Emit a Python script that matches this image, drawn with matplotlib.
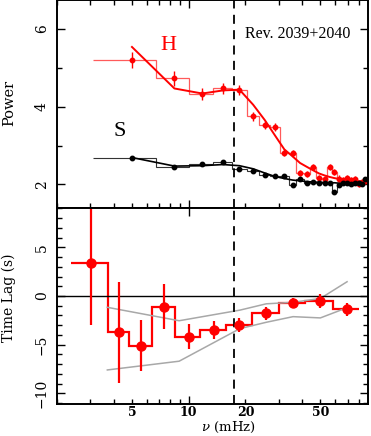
import numpy as np
import matplotlib
matplotlib.use("Agg")
import matplotlib.pyplot as plt
from matplotlib.ticker import LogLocator, FixedLocator, NullFormatter, MultipleLocator

plt.rcParams["mathtext.fontset"] = "dejavuserif"

# ---------------- data ----------------
# Power spectra (top panel)
pds_edges = [3.1, 6.7, 10.1, 13.5, 16.9, 20.3, 23.7, 27.1, 30.5, 33.9, 37.3, 40.7, 44.1,
             47.5, 50.9, 54.3, 57.7, 61.1, 64.5, 67.9, 71.3, 74.7, 78.1, 81.5, 84.9, 88.3]
pds_freq = [5.0, 8.4, 11.8, 15.2, 18.6, 22.0, 25.4, 28.8, 32.2, 35.6, 39.0, 42.4, 45.8,
            49.2, 52.6, 56.0, 59.4, 62.8, 66.2, 69.6, 73.0, 76.4, 79.8, 83.2, 86.6]
hard_power = [5.20, 4.73, 4.32, 4.47, 4.43, 3.75, 3.53, 3.47, 2.82, 2.80, 2.30, 2.26, 2.44,
              2.17, 2.14, 2.45, 2.32, 2.15, 2.12, 2.17, 2.10, 2.13, 2.02, 2.05, 2.08]
hard_err = [0.20, 0.19, 0.15, 0.13, 0.13, 0.11, 0.10, 0.10, 0.09, 0.09, 0.08, 0.08, 0.08,
            0.08, 0.08, 0.08, 0.08, 0.08, 0.08, 0.08, 0.08, 0.08, 0.08, 0.08, 0.08]
hard_model = [5.54, 4.47, 4.34, 4.42, 4.44, 4.05, 3.65, 3.25, 2.90, 2.72, 2.55, 2.45, 2.36,
              2.28, 2.23, 2.19, 2.16, 2.14, 2.12, 2.11, 2.10, 2.09, 2.08, 2.07, 2.06]
soft_power = [2.67, 2.44, 2.52, 2.58, 2.39, 2.34, 2.24, 2.21, 2.22, 1.97, 2.13, 2.03, 2.06,
              2.03, 2.04, 2.03, 1.80, 1.98, 2.04, 2.03, 2.02, 2.04, 2.03, 2.02, 2.14]
soft_err = [0.05] * 25
soft_model = [2.69, 2.47, 2.48, 2.51, 2.48, 2.40, 2.29, 2.20, 2.15, 2.11, 2.09, 2.07, 2.06,
              2.05, 2.05, 2.04, 2.04, 2.03, 2.03, 2.03, 2.03, 2.03, 2.03, 2.03, 2.03]

# Time lags (bottom panel)
lag_edges = [2.37, 3.72, 4.8, 6.38, 8.47, 11.5, 15.8, 21.6, 30.0, 41.6, 58.2, 80.5]
lag_freq = [3.03, 4.25, 5.58, 7.43, 10.0, 13.7, 18.6, 25.8, 36.0, 50.0, 69.3]
lag = [3.36, -3.73, -5.10, -1.10, -4.18, -3.50, -2.98, -1.78, -0.69, -0.51, -1.37]
lag_err = [6.3, 5.2, 2.6, 2.3, 1.3, 0.9, 0.75, 0.7, 0.45, 0.75, 0.65]

band_freq = [3.7, 8.9, 18.7, 25.8, 35.8, 50.0, 69.3]
band_upper = [-1.16, -2.54, -1.45, -0.80, -0.65, -0.25, 1.47]
band_lower = [-7.60, -6.70, -3.35, -2.70, -2.12, -2.25, -1.20]

break_freq = 17.5
xticks = [5, 10, 20, 50]
xticklabels = ["5", "10", "20", "50"]

# ---------------- figure ----------------
W, H = 371, 436
fig = plt.figure(figsize=(W / 100, H / 100), dpi=100)
RED = "#ff0000"
SERIF = "DejaVu Serif"

ax1 = fig.add_axes([57 / W, 1 - 208 / H, 311 / W, 208 / H])
ax2 = fig.add_axes([57 / W, 1 - 404 / H, 311 / W, 196 / H], sharex=ax1)

for ax in (ax1, ax2):
    ax.set_xscale("log")
    for s in ax.spines.values():
        s.set_linewidth(1.4)
    ax.tick_params(which="both", direction="in", right=True, width=1.0)
    ax.tick_params(which="major", length=6)
    ax.tick_params(which="minor", length=3.5)

ax1.set_xlim(2.0, 89.5)
ax1.set_ylim(1.39, 6.75)
ax2.set_ylim(-11.1, 9.05)

# top panel
ax1.stairs(hard_power, pds_edges, baseline=None, color="#ff5a5a", lw=0.9)
ax1.stairs(soft_power, pds_edges, baseline=None, color="#333333", lw=0.8)
ax1.plot(pds_freq, hard_model, color=RED, lw=1.4)
ax1.plot(pds_freq, soft_model, color="black", lw=1.2)
ax1.errorbar(pds_freq, hard_power, yerr=hard_err, fmt="o", ms=3.2, color=RED,
             elinewidth=1.0, capsize=0)
ax1.errorbar(pds_freq, soft_power, yerr=soft_err, fmt="o", ms=3.2, color="black",
             elinewidth=1.0, capsize=0)
ax1.axvline(break_freq, color="black", lw=1.3, ls=(0, (5, 3.5)))

ax1.yaxis.set_major_locator(MultipleLocator(2))
ax1.yaxis.set_minor_locator(MultipleLocator(1))
ax1.tick_params(axis="x", which="both", top=True, labelbottom=False)
ax1.tick_params(axis="y", which="major", pad=6)

ax1.text(245 / W, 1 - 34 / H, "Rev. 2039+2040", transform=fig.transFigure,
         family="Liberation Serif", fontsize=11.5, va="center", ha="left")
ax1.text(168 / W, 1 - 45 / H, "H", transform=fig.transFigure, color=RED,
         family="Liberation Serif", fontsize=16, va="center", ha="center")
ax1.text(120 / W, 1 - 132 / H, "S", transform=fig.transFigure, color="black",
         family="Liberation Serif", fontsize=16, va="center", ha="center")

# bottom panel
ax2.plot(band_freq, band_upper, color="#a8a8a8", lw=1.1)
ax2.plot(band_freq, band_lower, color="#a8a8a8", lw=1.1)
ax2.axhline(0, color="black", lw=1.0)
ax2.axvline(break_freq, color="black", lw=1.3, ls=(0, (5, 3.5)))
ax2.stairs(lag, lag_edges, baseline=None, color=RED, lw=1.6)
ax2.errorbar(lag_freq, lag, yerr=lag_err, fmt="o", ms=6.5, color=RED,
             elinewidth=1.6, capsize=0)

ax2.yaxis.set_major_locator(MultipleLocator(5))
ax2.yaxis.set_minor_locator(MultipleLocator(1))
ax2.tick_params(axis="x", which="major", top=True)
ax2.tick_params(axis="x", which="minor", top=False)
ax2.tick_params(axis="y", which="major", pad=6)

ax2.xaxis.set_major_locator(FixedLocator([10]))
ax2.xaxis.set_minor_locator(LogLocator(base=10, subs=np.arange(2, 10)))
ax2.xaxis.set_major_formatter(NullFormatter())
ax2.xaxis.set_minor_formatter(NullFormatter())
for v, t in zip(xticks, xticklabels):
    ax2.text(v, -0.01, t, transform=ax2.get_xaxis_transform(), ha="center", va="top",
             family=SERIF, fontsize=9, fontweight="bold")

fig.canvas.draw()
for ax in (ax1, ax2):
    for lab in ax.get_yticklabels():
        lab.set_rotation(90)
        lab.set_va("center")
        lab.set_fontfamily(SERIF)
        lab.set_fontsize(10)

fig.text(9 / W, 1 - 103 / H, "Power", family=SERIF, fontsize=10.5, rotation=90,
         ha="center", va="center")
fig.text(9 / W, 1 - 298 / H, "Time Lag (s)", family=SERIF, fontsize=10, rotation=90,
         ha="center", va="center")
fig.text(228 / W, 1 - 427 / H, r"$\nu$ (mHz)", family=SERIF, fontsize=9.5,
         ha="center", va="center")

fig.savefig("out.png", dpi=100)
